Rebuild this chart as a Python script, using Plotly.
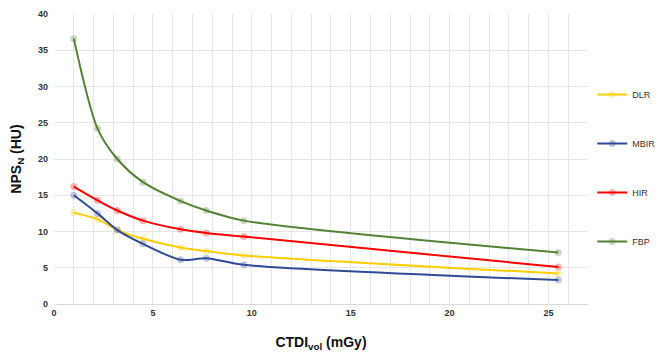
import plotly.graph_objects as go

ctdi = [1.0, 2.2, 3.2, 4.5, 6.4, 7.7, 9.6, 25.5]
dlr = [12.6, 11.7, 10.2, 9.0, 7.8, 7.3, 6.7, 4.2]
mbir = [15.0, 12.5, 10.2, 8.3, 6.1, 6.3, 5.4, 3.3]
hir = [16.2, 14.3, 12.9, 11.5, 10.3, 9.8, 9.3, 5.1]
fbp = [36.6, 24.2, 20.0, 16.8, 14.2, 12.9, 11.5, 7.1]

series = [
    ("DLR", dlr, (255, 204, 0)),
    ("MBIR", mbir, (47, 74, 150)),
    ("HIR", hir, (255, 0, 0)),
    ("FBP", fbp, (84, 130, 53)),
]

fig = go.Figure()
for i, (name, vals, (r, g, b)) in enumerate(series):
    fig.add_trace(go.Scatter(
        x=ctdi, y=vals, name=name, mode="lines+markers",
        line=dict(color=f"rgb({r},{g},{b})", width=2, shape="spline", smoothing=0.8),
        marker=dict(color=f"rgba({r},{g},{b},0.3)", size=7),
        legendgroup=f"g{i}",
    ))

fig.update_layout(
    width=672, height=345,
    margin=dict(l=46, r=92, t=6, b=49),
    plot_bgcolor="white", paper_bgcolor="white",
    font=dict(family="Liberation Sans, Arial, sans-serif", color="#222"),
    showlegend=True,
    legend=dict(x=1.008, y=0.772, xanchor="left", yanchor="top",
                tracegroupgap=30, font=dict(size=9, color="#333"),
                bgcolor="rgba(0,0,0,0)"),
)
fig.update_xaxes(
    range=[0, 27], dtick=5, tick0=0, showgrid=True, gridcolor="#e6e6e6", gridwidth=1,
    minor=dict(dtick=1, showgrid=True, gridcolor="#e6e6e6", gridwidth=1),
    showline=True, linecolor="#d9d9d9", zeroline=False, ticks="",
    tickfont=dict(size=9, weight="bold", color="#333"), automargin=False,
    title=dict(text="CTDI<sub>vol</sub> (mGy)", font=dict(size=14, weight="bold", color="#111"), standoff=20),
    mirror=False,
)
fig.update_yaxes(
    range=[0, 40], dtick=5, showgrid=True, gridcolor="#e6e6e6", gridwidth=1,
    showline=False, zeroline=False, ticks="", automargin=False, ticklabelstandoff=5,
    tickfont=dict(size=9, weight="bold", color="#333"),
    title=dict(text="NPS<sub>N</sub> (HU)", font=dict(size=14, weight="bold", color="#111"), standoff=22),
)
fig.write_html("out.html")
